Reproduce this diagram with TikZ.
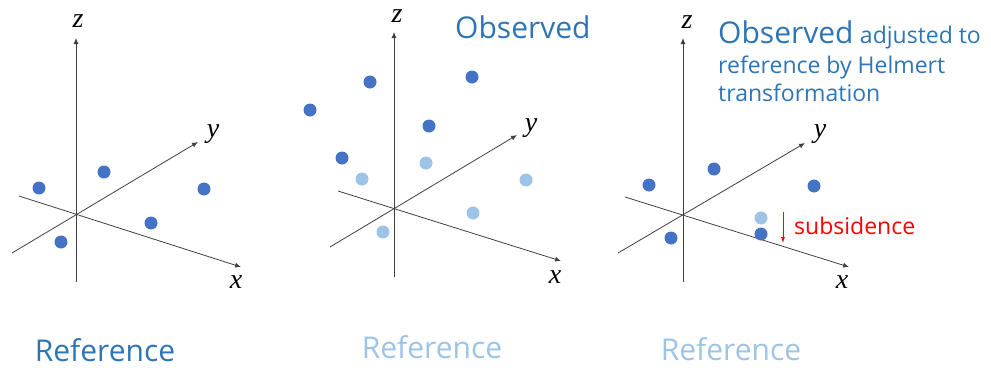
\documentclass[tikz,border=0pt]{standalone}
\usepackage{fontspec}
\setmainfont{Liberation Serif}
\newfontfamily\handfont{Open Sans}
\usepackage{xcolor}
\usetikzlibrary{arrows.meta}

\definecolor{dotdark}{HTML}{4472C4}
\definecolor{dotlight}{HTML}{9DC3E6}
\definecolor{textblue}{HTML}{2E75B6}
\definecolor{axisgray}{HTML}{404040}

\begin{document}
\begin{tikzpicture}[
    x=1pt, y=-1pt,
    axis/.style={draw=axisgray, line width=0.8pt},
    axisarrow/.style={axis, -{Latex[length=6pt, width=5pt]}},
    axlabel/.style={font=\fontsize{28}{30}\selectfont\itshape, inner sep=0pt},
    % ── points ──
    dot/.style={circle, minimum size=13pt, inner sep=0pt},
    darkdot/.style={dot, fill=dotdark},
    lightdot/.style={dot, fill=dotlight},
    % ── captions ──
    bigcap/.style={font=\handfont\fontsize{30}{32}\selectfont, inner sep=0pt},
    smallcap/.style={font=\handfont\fontsize{23}{25}\selectfont, inner sep=0pt, text=textblue, anchor=base west},
    subarrow/.style={-{Latex[length=6pt, width=4pt]}, line width=0.8pt, color=red},
]

\useasboundingbox (0,0) rectangle (991,367);

% ══════════════════════════════════════
% LEFT: Reference
% ══════════════════════════════════════
\begin{scope}[shift={(76,214)}]
    \coordinate (ao) at (0,0);
    \coordinate (azb) at (0,68);
    \coordinate (azt) at (0,-176);
    \coordinate (axs) at (-57,-18);
    \coordinate (axt) at (165,53);
    \coordinate (ays) at (-64,39);
    \coordinate (ayt) at (122,-72);
    \draw[axisarrow] (azb) -- (azt);
    \draw[axisarrow] (axs) -- (axt);
    \draw[axisarrow] (ays) -- (ayt);
    \node[axlabel] (azl) at (2,-193) {z};
    \node[axlabel] (axl) at (160,68) {x};
    \node[axlabel] (ayl) at (137,-80) {y};

    \node[darkdot] (a1) at (-37,-26) {};
    \node[darkdot] (a2) at (28,-42) {};
    \node[darkdot] (a3) at (128,-25) {};
    \node[darkdot] (a4) at (75,9) {};
    \node[darkdot] (a5) at (-15,28) {};
\end{scope}

\node[bigcap, text=textblue, anchor=base] (aref) at (105,361) {Reference};

% ══════════════════════════════════════
% MIDDLE: Observed
% ══════════════════════════════════════
\begin{scope}[shift={(394,209)}]
    \coordinate (bo) at (0,0);
    \coordinate (bzb) at (0,68);
    \coordinate (bzt) at (0,-177);
    \coordinate (bxs) at (-56,-18);
    \coordinate (bxt) at (167,52);
    \coordinate (bys) at (-64,38);
    \coordinate (byt) at (123,-74);
    \draw[axisarrow] (bzb) -- (bzt);
    \draw[axisarrow] (bxs) -- (bxt);
    \draw[axisarrow] (bys) -- (byt);
    \node[axlabel] (bzl) at (3,-193) {z};
    \node[axlabel] (bxl) at (161,68) {x};
    \node[axlabel] (byl) at (137,-81) {y};

    % reference points
    \node[lightdot] (b1) at (-32,-30) {};
    \node[lightdot] (b2) at (32,-46) {};
    \node[lightdot] (b3) at (132,-29) {};
    \node[lightdot] (b4) at (79,4) {};
    \node[lightdot] (b5) at (-11,23) {};
    % observed points
    \node[darkdot] (b6) at (-24,-127) {};
    \node[darkdot] (b7) at (78,-132) {};
    \node[darkdot] (b8) at (-84,-99) {};
    \node[darkdot] (b9) at (35,-83) {};
    \node[darkdot] (b10) at (-52,-51) {};
\end{scope}

\node[bigcap, text=textblue, anchor=base west] (bobs) at (455,38) {Observed};
\node[bigcap, text=dotlight, anchor=base] (bref) at (432,358) {Reference};

% ══════════════════════════════════════
% RIGHT: Helmert adjusted
% ══════════════════════════════════════
\begin{scope}[shift={(683,214)}]
    \coordinate (co) at (0,0);
    \coordinate (czb) at (0,68);
    \coordinate (czt) at (0,-176);
    \coordinate (cxs) at (-58,-17);
    \coordinate (cxt) at (166,53);
    \coordinate (cys) at (-65,39);
    \coordinate (cyt) at (122,-71);
    \draw[axisarrow] (czb) -- (czt);
    \draw[axisarrow] (cxs) -- (cxt);
    \draw[axisarrow] (cys) -- (cyt);
    \node[axlabel] (czl) at (4,-192) {z};
    \node[axlabel] (cxl) at (159,68) {x};
    \node[axlabel] (cyl) at (137,-80) {y};

    \node[darkdot] (c1) at (-34,-29) {};
    \node[darkdot] (c2) at (31,-45) {};
    \node[darkdot] (c3) at (131,-28) {};
    \node[darkdot] (c4) at (-12,24) {};
    \node[lightdot] (c5) at (78,4) {};
    \node[darkdot] (c6) at (78,20) {};

    % subsidence marker
    \coordinate (cst) at (100,-2);
    \coordinate (csb) at (100,29);
    \draw[subarrow] (cst) -- (csb);
    \node[font=\handfont\fontsize{23}{25}\selectfont, text=red, inner sep=0pt, anchor=west] (csub) at (111,12) {subsidence};
\end{scope}

\node[bigcap, text=textblue, anchor=base west] (cobs) at (718,43) {Observed};
\node[smallcap] (cadj) at ([xshift=6pt]cobs.base east) {adjusted to};
\node[smallcap] (cline2) at (718,73) {reference by Helmert};
\node[smallcap] (cline3) at (718,101) {transformation};
\node[bigcap, text=dotlight, anchor=base] (cref) at (731,360) {Reference};

\end{tikzpicture}
\end{document}
